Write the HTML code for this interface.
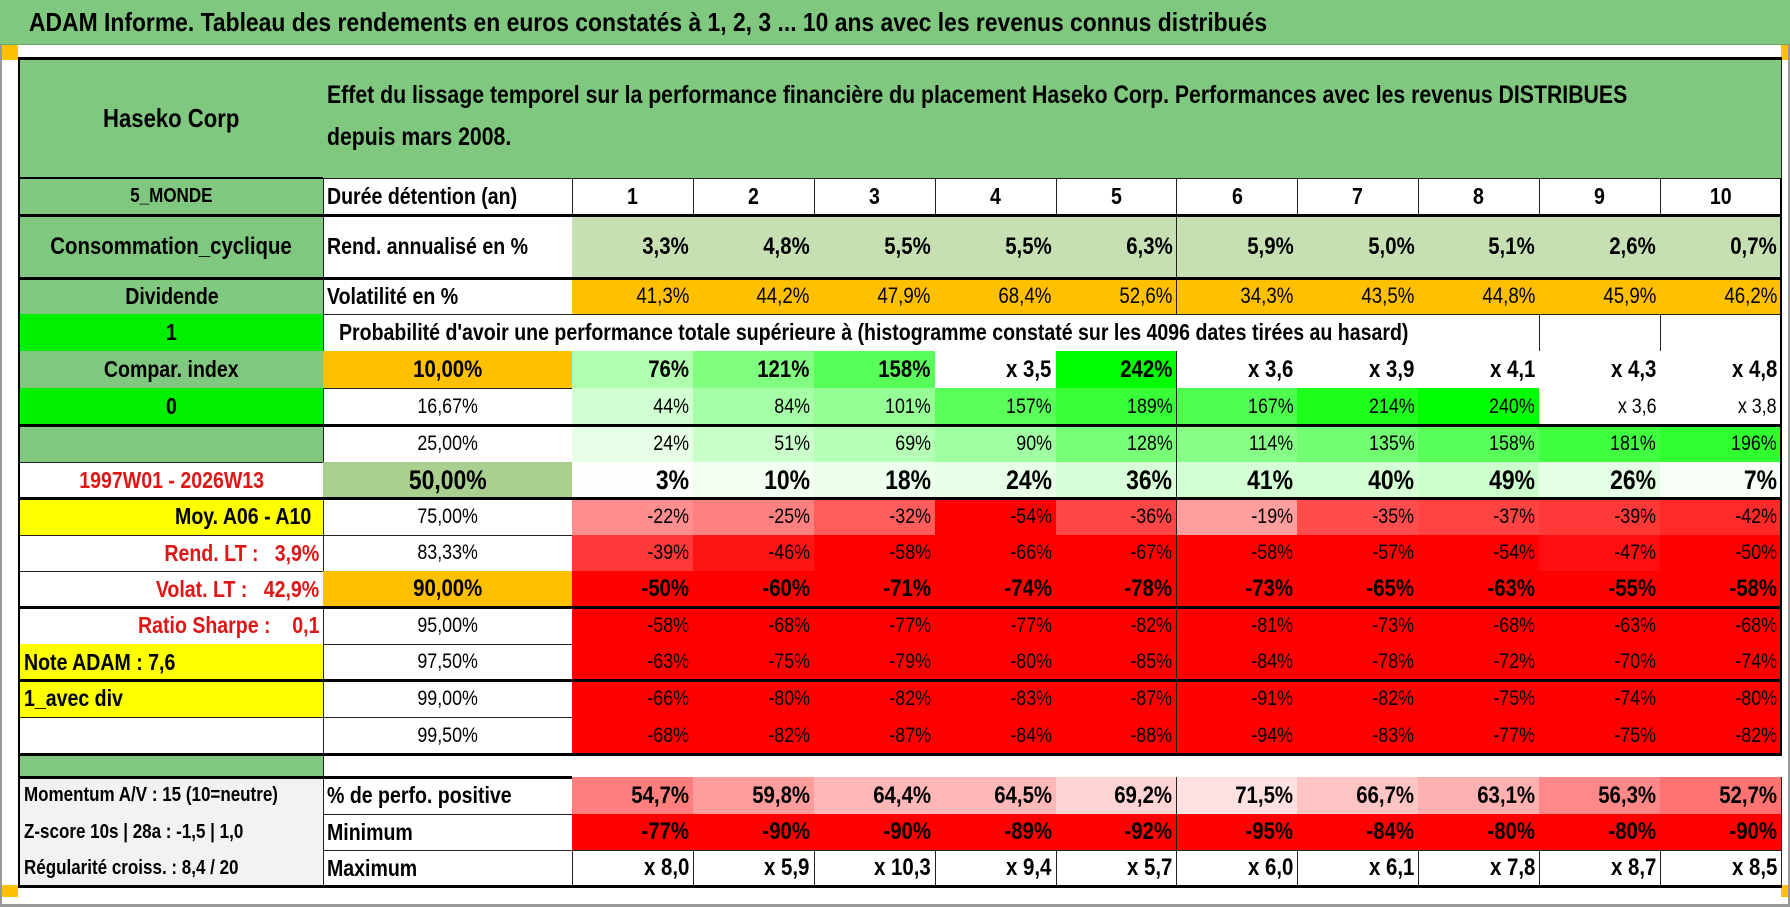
<!DOCTYPE html>
<html><head><meta charset="utf-8">
<style>
html,body{margin:0;padding:0;background:#fff;}
#root{position:relative;width:1790px;height:907px;overflow:hidden;background:#fff;font-family:"Liberation Sans Narrow","Liberation Sans",sans-serif;color:#000;}
.c{position:absolute;box-sizing:border-box;display:flex;align-items:center;white-space:nowrap;overflow:hidden;border-right:1px solid #222;border-bottom:1px solid #222;}
.r{justify-content:flex-end;padding-right:4px;}
.m{justify-content:center;}
.l{justify-content:flex-start;padding-left:4px;}
.t{display:inline-block;transform:scaleX(.85);white-space:pre;}
.r .t{transform-origin:right center;}
.l .t{transform-origin:left center;}
.m .t{transform-origin:center center;}
.hl{position:absolute;background:#000;}
</style></head><body>
<div id="root">
  <div style="position:absolute;left:0;top:0;width:1790px;height:45px;background:#80c880;border-bottom:1px solid #6a6;box-sizing:border-box;font-weight:bold;font-size:26px;line-height:45px;padding-left:29px;white-space:nowrap;"><span style="display:inline-block;transform:scaleX(.88);transform-origin:left center;">ADAM Informe. Tableau des rendements en euros constatés à 1, 2, 3 ... 10 ans avec les revenus connus distribués</span></div>
  <div style="position:absolute;left:0;top:45px;width:18px;height:15px;background:#ffc000"></div>
  <div style="position:absolute;left:1781px;top:45px;width:9px;height:15px;background:#ffc000"></div>
  <div style="position:absolute;left:0;top:885px;width:18px;height:12px;background:#ffc000"></div>
  <div style="position:absolute;left:1781px;top:885px;width:9px;height:12px;background:#ffc000"></div>
  <div style="position:absolute;left:0;top:45px;width:2px;height:862px;background:#999"></div>
  <div style="position:absolute;left:0;top:904px;width:1790px;height:3px;background:#999"></div>
  <div style="position:absolute;left:1788px;top:45px;width:2px;height:862px;background:#999"></div>
</div>
<script>
var years = [1,2,3,4,5,6,7,8,9,10];
var rendAnnualise = [3.3,4.8,5.5,5.5,6.3,5.9,5.0,5.1,2.6,0.7];
var volatilite = [41.3,44.2,47.9,68.4,52.6,34.3,43.5,44.8,45.9,46.2];
var seuils = ["10,00%","16,67%","25,00%","50,00%","75,00%","83,33%","90,00%","95,00%","97,50%","99,00%","99,50%"];
var p10 = [76,121,158,250,242,260,290,310,330,380];
var p16 = [44,84,101,157,189,167,214,240,260,280];
var p25 = [24,51,69,90,128,114,135,158,181,196];
var p50 = [3,10,18,24,36,41,40,49,26,7];
var p75 = [-22,-25,-32,-54,-36,-19,-35,-37,-39,-42];
var p83 = [-39,-46,-58,-66,-67,-58,-57,-54,-47,-50];
var p90 = [-50,-60,-71,-74,-78,-73,-65,-63,-55,-58];
var p95 = [-58,-68,-77,-77,-82,-81,-73,-68,-63,-68];
var p975 = [-63,-75,-79,-80,-85,-84,-78,-72,-70,-74];
var p99 = [-66,-80,-82,-83,-87,-91,-82,-75,-74,-80];
var p995 = [-68,-82,-87,-84,-88,-94,-83,-77,-75,-82];
var perfPositive = [54.7,59.8,64.4,64.5,69.2,71.5,66.7,63.1,56.3,52.7];
var minimum = [-77,-90,-90,-89,-92,-95,-84,-80,-80,-90];
var maximum = [8.0,5.9,10.3,9.4,5.7,6.0,6.1,7.8,8.7,8.5];

var root = document.getElementById('root');
var X0 = 18, X1 = 323, X2 = 572, CW = 120.9;
var ROWS = [58,178,215,278,314,351,388,425,462,498,535,571,607,644,680,717,754,777,814,850,886];
function colX(i){ return X2 + i*CW; }
function fr(n){ return n.toFixed(1).replace('.', ','); }
function fmtPct(v){ return v >= 250 ? 'x ' + fr(1 + v/100) : Math.round(v) + '%'; }
function greenScale(v){ if (v >= 250) return '#ffffff'; var t = Math.max(0, Math.min(1, v/242)); var c = Math.round(255*(1-t)); return 'rgb(' + c + ',255,' + c + ')'; }
function redScale(v){ var t = Math.max(0, Math.min(1, -v/50)); var c = Math.round(255*(1-t)); return 'rgb(255,' + c + ',' + c + ')'; }
function posScale(v){ var c = Math.round(Math.max(0, Math.min(240, 115 + (v-52.7)*5.85))); return 'rgb(255,' + c + ',' + c + ')'; }
function valScale(v){ return v >= 0 ? greenScale(v) : redScale(v); }

function cell(x, y, w, h, text, cls, st){
  var d = document.createElement('div');
  d.className = 'c ' + cls;
  d.style.left = x + 'px'; d.style.top = y + 'px';
  d.style.width = (w + 1) + 'px'; d.style.height = (h + 1) + 'px';
  for (var k in st) d.style[k] = st[k];
  var s = document.createElement('span');
  s.className = 't';
  s.textContent = text;
  d.appendChild(s);
  root.appendChild(d);
  return d;
}
function rowY(r){ return ROWS[r]; }
function rowH(r){ return ROWS[r+1] - ROWS[r]; }

var G = '#80c880';
var leftDefs = [
  [0,'Haseko Corp','m',{background:G,fontWeight:'bold',fontSize:'26px'},'company-name'],
  [1,'5_MONDE','m',{background:G,fontWeight:'bold',fontSize:'20px'},'region-label'],
  [2,'Consommation_cyclique','m',{background:G,fontWeight:'bold',fontSize:'24px'},'sector-label'],
  [3,'Dividende','m',{background:G,fontWeight:'bold',fontSize:'23px'},'dividend-label'],
  [4,'1','m',{background:'#00f000',fontWeight:'bold',fontSize:'23px'},'flag-one'],
  [5,'Compar. index','m',{background:G,fontWeight:'bold',fontSize:'23px'},'compar-index-label'],
  [6,'0','m',{background:'#00f000',fontWeight:'bold',fontSize:'23px'},'flag-zero'],
  [7,'','m',{background:G},'empty-green-cell'],
  [8,'1997W01 - 2026W13','m',{color:'#e01515',fontWeight:'bold',fontSize:'23px'},'date-range'],
  [9,'Moy. A06 - A10','r',{background:'#ffff00',fontWeight:'bold',fontSize:'23px',paddingRight:'12px'},'average-label'],
  [10,'Rend. LT :   3,9%','r',{color:'#e01515',fontWeight:'bold',fontSize:'23px'},'long-term-return'],
  [11,'Volat. LT :   42,9%','r',{color:'#e01515',fontWeight:'bold',fontSize:'23px'},'long-term-volatility'],
  [12,'Ratio Sharpe :    0,1','r',{color:'#e01515',fontWeight:'bold',fontSize:'23px'},'sharpe-ratio'],
  [13,'Note ADAM : 7,6','l',{background:'#ffff00',fontWeight:'bold',fontSize:'23px'},'adam-score'],
  [14,'1_avec div','l',{background:'#ffff00',fontWeight:'bold',fontSize:'23px'},'dividend-mode'],
  [15,'','l',{},'empty-left-cell'],
  [16,'','l',{background:G},'separator-green'],
  [17,'Momentum A/V : 15 (10=neutre)','l',{background:'#f2f2f2',fontWeight:'bold',fontSize:'20px'},'momentum-label'],
  [18,'Z-score 10s | 28a : -1,5 | 1,0','l',{background:'#f2f2f2',fontWeight:'bold',fontSize:'20px'},'zscore-label'],
  [19,'Régularité croiss. : 8,4 / 20','l',{background:'#f2f2f2',fontWeight:'bold',fontSize:'20px'},'regularity-label']
];
leftDefs.forEach(function(dfn){
  var r = dfn[0];
  var el = cell(X0, rowY(r), X1 - X0, rowH(r), dfn[1], dfn[2], dfn[3]);
  
  
  el.style.borderLeft = '2px solid #000';
});

var hd = document.createElement('div');
hd.className = 'c l';
hd.style.left = X1 + 'px'; hd.style.top = rowY(0) + 'px';
hd.style.width = (1782 - X1) + 'px'; hd.style.height = (rowH(0) + 1) + 'px';
hd.style.background = G; hd.style.fontWeight = 'bold'; hd.style.fontSize = '25px';
hd.style.display = 'block'; hd.style.paddingTop = '16px';
hd.innerHTML = '<span class="t" style="display:block;transform-origin:left center;line-height:42px;">Effet du lissage temporel sur la performance financière du placement Haseko Corp. Performances avec les revenus DISTRIBUES</span><span class="t" style="display:block;transform-origin:left center;line-height:42px;">depuis mars 2008.</span>';


root.appendChild(hd);

var midDefs = [
  [1,'Durée détention (an)','l',{fontWeight:'bold',fontSize:'23px'},'holding-period-label'],
  [2,'Rend. annualisé en %','l',{fontWeight:'bold',fontSize:'23px'},'annual-return-label'],
  [3,'Volatilité en %','l',{fontWeight:'bold',fontSize:'23px'},'volatility-label'],
  [17,'% de perfo. positive','l',{fontWeight:'bold',fontSize:'23px'},'positive-perf-label'],
  [18,'Minimum','l',{fontWeight:'bold',fontSize:'23px'},'minimum-label'],
  [19,'Maximum','l',{fontWeight:'bold',fontSize:'23px'},'maximum-label']
];
midDefs.forEach(function(dfn){
  var el = cell(X1, rowY(dfn[0]), X2 - X1, rowH(dfn[0]), dfn[1], dfn[2], dfn[3]);
  
  
});

var pt = cell(X1, rowY(4), colX(8) - X1, rowH(4), "Probabilité d'avoir une performance totale supérieure à (histogramme constaté sur les 4096 dates tirées au hasard)", 'l', {fontWeight:'bold',fontSize:'23px',paddingLeft:'16px'});


[8,9].forEach(function(i){
  var e = cell(colX(i), rowY(4), CW, rowH(4), '', 'm', {});
  
  
});

var seuilStyles = [
  {background:'#ffc000',fontWeight:'bold',fontSize:'24px'},
  {fontSize:'21px'},{fontSize:'21px'},
  {background:'#a9d08e',fontWeight:'bold',fontSize:'27px'},
  {fontSize:'21px'},{fontSize:'21px'},
  {background:'#ffc000',fontWeight:'bold',fontSize:'24px'},
  {fontSize:'21px'},{fontSize:'21px'},{fontSize:'21px'},{fontSize:'21px'}
];
seuils.forEach(function(s, k){
  var r = 5 + k;
  var el = cell(X1, rowY(r), X2 - X1, rowH(r), s, 'm', seuilStyles[k]);
  
  
});

years.forEach(function(yv, i){
  var el = cell(colX(i), rowY(1), CW, rowH(1), String(yv), 'm', {fontWeight:'bold',fontSize:'23px'});
  
  
});
rendAnnualise.forEach(function(v, i){
  var el = cell(colX(i), rowY(2), CW, rowH(2), fr(v) + '%', 'r', {background:'#c6e0b4',fontWeight:'bold',fontSize:'24px'});
  
  
});
volatilite.forEach(function(v, i){
  var el = cell(colX(i), rowY(3), CW, rowH(3), fr(v) + '%', 'r', {background:'#ffc000',fontSize:'22px'});
  
  
});

var probRows = [p10,p16,p25,p50,p75,p83,p90,p95,p975,p99,p995];
var probStyle = [
  {fontWeight:'bold',fontSize:'24px'},{fontSize:'21px'},{fontSize:'21px'},
  {fontWeight:'bold',fontSize:'27px'},{fontSize:'21px'},{fontSize:'21px'},
  {fontWeight:'bold',fontSize:'24px'},{fontSize:'21px'},{fontSize:'21px'},{fontSize:'21px'},{fontSize:'21px'}
];
probRows.forEach(function(arr, k){
  var r = 5 + k;
  arr.forEach(function(v, i){
    var st = {};
    for (var q in probStyle[k]) st[q] = probStyle[k][q];
    st.background = valScale(v);
    var el = cell(colX(i), rowY(r), CW, rowH(r), fmtPct(v), 'r', st);
    
    
  });
});

perfPositive.forEach(function(v, i){
  var el = cell(colX(i), rowY(17), CW, rowH(17), fr(v) + '%', 'r', {background:posScale(v),fontWeight:'bold',fontSize:'24px'});
  
  
});
minimum.forEach(function(v, i){
  var el = cell(colX(i), rowY(18), CW, rowH(18), Math.round(v) + '%', 'r', {background:redScale(v),fontWeight:'bold',fontSize:'24px'});
  
  
});
maximum.forEach(function(v, i){
  var el = cell(colX(i), rowY(19), CW, rowH(19), 'x ' + fr(v), 'r', {fontWeight:'bold',fontSize:'24px'});
  
  
});

var thick = [0,2,3,7,9,12,14,16,17,20];
thick.forEach(function(r){
  var ln = document.createElement('div');
  ln.className = 'hl';
  ln.style.left = X0 + 'px'; ln.style.top = (ROWS[r] - 1) + 'px';
  ln.style.width = (1782 - X0) + 'px'; ln.style.height = '3px';
  if (r === 17) { ln.style.width = (X2 - X0) + 'px'; }
  
  
  root.appendChild(ln);
});
var ln1 = document.createElement('div');
ln1.className = 'hl';
ln1.style.left = X0 + 'px'; ln1.style.top = '177px'; ln1.style.width = (X1 - X0) + 'px'; ln1.style.height = '2px';


root.appendChild(ln1);
var rb = document.createElement('div');
rb.className = 'hl';
rb.style.left = '1780px'; rb.style.top = '178px'; rb.style.width = '2px'; rb.style.height = '576px';


root.appendChild(rb);
</script>
</body></html>
